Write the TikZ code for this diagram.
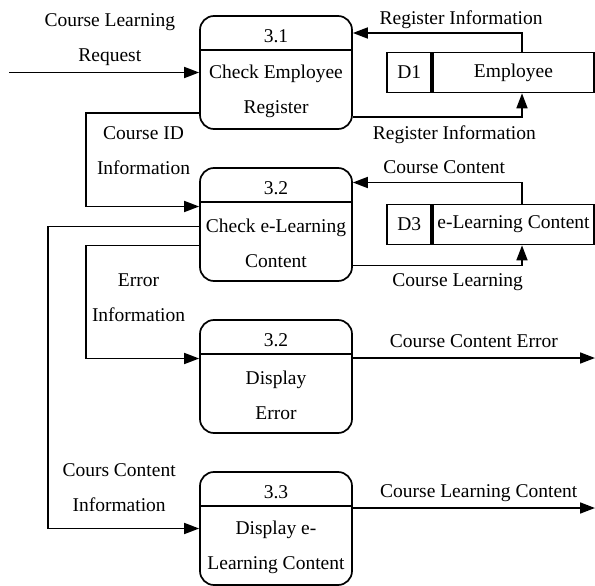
\documentclass[tikz,border=0pt]{standalone}
\usepackage{fontspec}
\setmainfont{Liberation Serif}
\usetikzlibrary{arrows.meta}

\begin{document}
\begin{tikzpicture}[x=1pt, y=-1pt, node distance=152pt, line width=1.7pt,
    font=\fontsize{19.5}{35}\selectfont,
    proc/.style={draw, rounded corners=14pt, minimum width=152pt, minimum height=113pt, inner sep=0pt,
      path picture={\draw ([yshift=-34pt]path picture bounding box.north west) -- ([yshift=-34pt]path picture bounding box.north east);}},
    store/.style={draw, minimum height=40pt, inner sep=0pt},
    flow/.style={-{Triangle[length=15pt,width=11pt]}},
    lbl/.style={align=center, inner sep=0pt}]
  \useasboundingbox (0,0) rectangle (595,586);

  % processes
  \node [proc] (p31) at (276,72.5) {};
  \node [proc] (p32) [below of=p31] {};
  \node [proc] (p32e) [below of=p32] {};
  \node [proc] (p33) [below of=p32e] {};
  \node (p31id) at ([yshift=-21pt]p31.north) {3.1};
  \node (p32id) at ([yshift=-21pt]p32.north) {3.2};
  \node (p32eid) at ([yshift=-21pt]p32e.north) {3.2};
  \node (p33id) at ([yshift=-21pt]p33.north) {3.3};
  \node [lbl] (p31name) at ([yshift=-19pt]p31.center) {Check Employee\\Register};
  \node [lbl] (p32name) at ([yshift=-19pt]p32.center) {Check e-Learning\\Content};
  \node [lbl] (p32ename) at ([yshift=-19pt]p32e.center) {Display\\Error};
  \node [lbl] (p33name) at ([yshift=-19pt]p33.center) {Display e-\\Learning Content};

  % data stores
  \node [store, minimum width=161pt, node distance=237.5pt] (d1) [right of=p31] {Employee};
  \node [store, minimum width=44pt, anchor=east] (d1id) at (d1.west) {D1};
  \node [store, minimum width=161pt, node distance=237.5pt] (d3) [right of=p32] {e-Learning Content};
  \node [store, minimum width=44pt, anchor=east] (d3id) at (d3.west) {D3};

  \coordinate (reqsrc) at (9,72.5);
  \coordinate (errsink) at (595,358);
  \coordinate (contsink) at (595,508);

  \draw [flow] (reqsrc) -- (p31.west) node[lbl, pos=0.53, above=6pt] {Course Learning\\Request};
  \draw [flow] ([xshift=8.5pt]d1.north) |- ([yshift=39.5pt]p31.east) node[lbl, pos=0.68, above=3pt] {Register Information};
  \draw [flow] ([yshift=-44.5pt]p31.east) -| ([xshift=8.5pt]d1.south) node[lbl, pos=0.3, below=8pt] {Register Information};
  \draw [flow] ([yshift=-40.5pt]p31.west) -- ++(-113,0) |- ([yshift=18pt]p32.west) node[lbl, pos=0.2, right=10pt] {Course ID\\Information};
  \draw [flow] ([xshift=8.5pt]d3.north) |- ([yshift=42pt]p32.east) node[lbl, pos=0.73, above=8pt] {Course Content};
  \draw [flow] ([yshift=-41pt]p32.east) -| ([xshift=8.5pt]d3.south) node[lbl, pos=0.31, below=7pt] {Course Learning};
  \draw [flow] ([yshift=-21pt]p32.west) -- ++(-113,0) |- ([yshift=18pt]p32e.west) node[lbl, pos=0.23, right=5pt] {Error\\Information};
  \draw [flow] ([yshift=-2pt]p32.west) -- ++(-151,0) |- (p33.west) node[lbl, pos=0.735, above=16pt] {Cours Content\\Information};
  \draw [flow] (p32e.east |- errsink) -- (errsink) node[lbl, midway, above=9pt] {Course Content Error};
  \draw [flow] (p33.east |- contsink) -- (contsink) node[lbl, pos=0.52, above=5pt] {Course Learning Content};
\end{tikzpicture}
\end{document}
